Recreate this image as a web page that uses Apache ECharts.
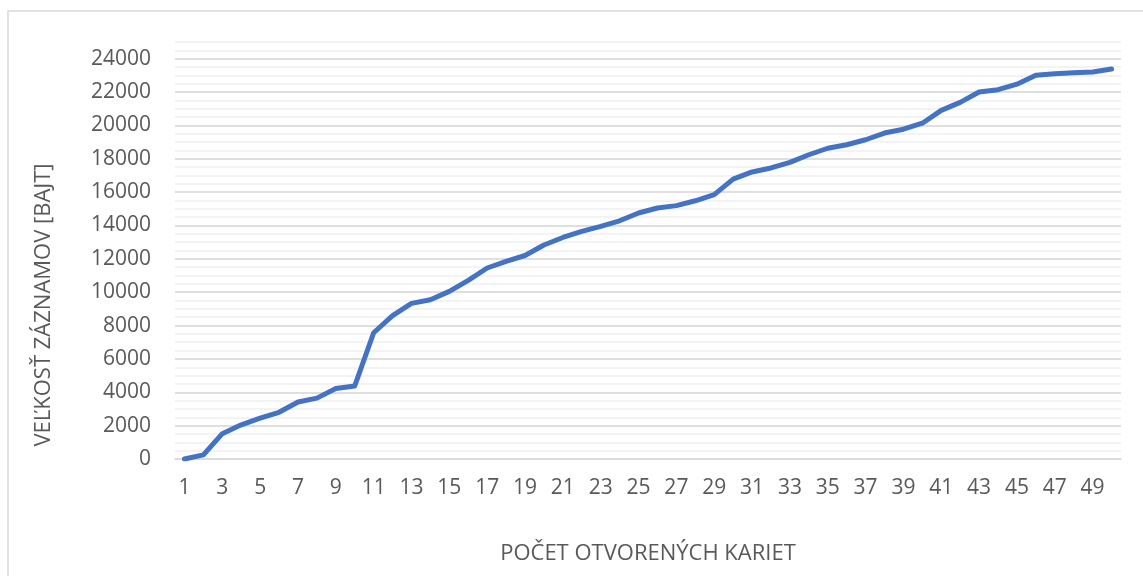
<!DOCTYPE html>
<html>
<head>
<meta charset="utf-8">
<script src="https://cdn.jsdelivr.net/npm/echarts@6/dist/echarts.min.js"></script>
<style>html,body{margin:0;padding:0;background:#fff;}#c{width:1143px;height:576px;}</style>
</head>
<body>
<div id="c"></div>
<script>
const categories = [];
for (let i = 1; i <= 50; i++) categories.push(String(i));
const values = [0, 250, 1520, 2050, 2450, 2800, 3420, 3650, 4230, 4380,
  7570, 8600, 9330, 9550, 10050, 10710, 11450, 11850, 12200, 12830,
  13280, 13650, 13950, 14280, 14750, 15050, 15190, 15480, 15850, 16780,
  17210, 17450, 17780, 18240, 18630, 18840, 19140, 19540, 19770, 20130,
  20900, 21380, 22000, 22140, 22470, 23000, 23100, 23160, 23200, 23380];
const xTitle = 'POČET OTVORENÝCH KARIET';
const yTitle = 'VEĽKOSŤ ZÁZNAMOV [BAJT]';

const font = 'Open Sans';
const chart = echarts.init(document.getElementById('c'), null, {renderer: 'canvas'});
chart.setOption({
  animation: false,
  backgroundColor: '#fff',
  grid: {left: 175, right: 22, top: 42, bottom: 117, containLabel: false, outerBoundsMode: 'none'},
  graphic: [
    {type: 'rect', shape: {x: 8, y: 11, width: 1160, height: 600},
     style: {fill: 'none', stroke: '#d9d9d9', lineWidth: 1.5}, silent: true},
    {type: 'text', x: 44, y: 305, rotation: Math.PI / 2,
     style: {text: yTitle, font: '22px "' + font + '"', fill: '#595959',
       textAlign: 'center', textVerticalAlign: 'middle'}}
  ],
  xAxis: {
    type: 'category', data: categories, boundaryGap: true,
    name: xTitle, nameLocation: 'middle', nameGap: 84,
    nameTextStyle: {fontFamily: font, fontSize: 22, color: '#595959'},
    axisLine: {show: true, lineStyle: {color: '#d9d9d9', width: 1.5}},
    axisTick: {show: false},
    axisLabel: {interval: 1, margin: 19, fontFamily: font, fontSize: 21, color: '#595959'}
  },
  yAxis: [
    {type: 'value', position: 'left', min: 0, max: 25000, interval: 500,
     axisLine: {show: false}, axisTick: {show: false}, axisLabel: {show: false},
     splitLine: {show: true, lineStyle: {color: '#efefef', width: 1.5}}},
    {type: 'value', position: 'left', offset: 0, min: 0, max: 25000, interval: 2000,
     axisLine: {show: false}, axisTick: {show: false},
     axisLabel: {margin: 24, fontFamily: font, fontSize: 21, color: '#595959',
       formatter: v => (v > 24000 ? '' : String(v))},
     splitLine: {show: true, showMaxLine: false, lineStyle: {color: '#d9d9d9', width: 1.5}}}
  ],
  series: [{
    type: 'line', data: values, yAxisIndex: 1, showSymbol: false, symbol: 'none',
    lineStyle: {color: '#4472c4', width: 5, cap: 'round', join: 'round'},
    itemStyle: {color: '#4472c4'}
  }]
});
</script>
</body>
</html>
